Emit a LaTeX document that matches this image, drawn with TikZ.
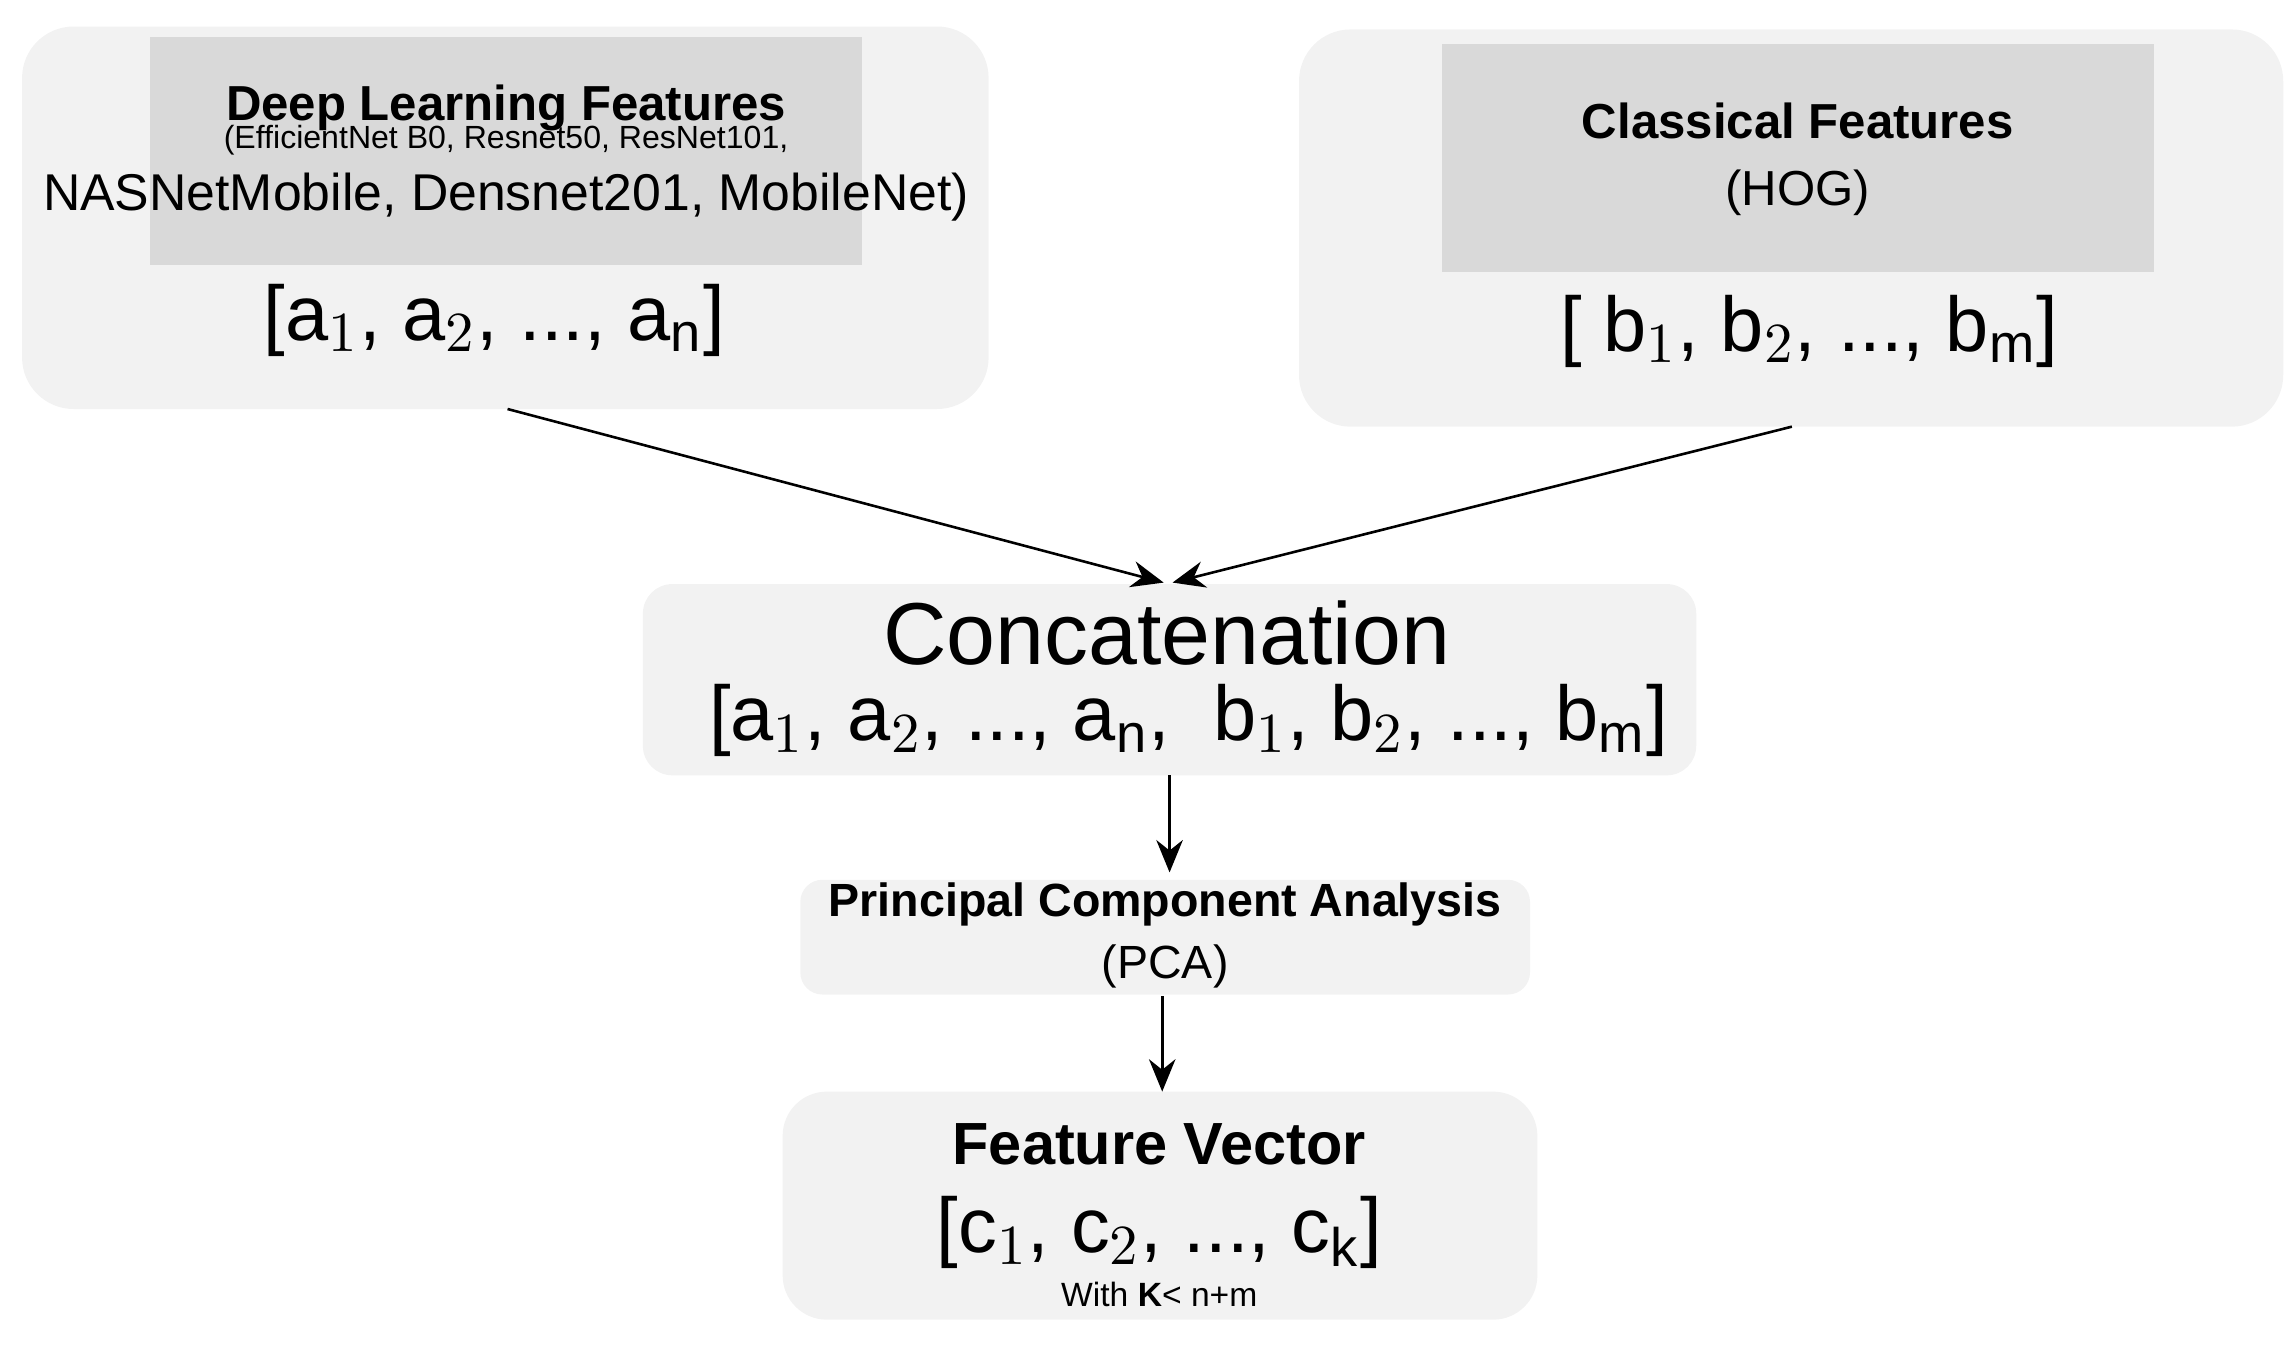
\documentclass[tikz,border=0pt]{standalone}
\usepackage{fontspec}
\setmainfont{Liberation Sans}
\usetikzlibrary{arrows.meta,calc}
\definecolor{outerbg}{HTML}{F2F2F2}
\definecolor{innerbg}{HTML}{D9D9D9}
\tikzset{
  outer/.style={fill=outerbg, draw=none, rounded corners=0.35cm},
  inner/.style={fill=innerbg, draw=none},
  arrow/.style={-{Stealth[length=2.2mm,width=1.8mm]}, line width=0.5pt, draw=black}
}
\begin{document}
\begin{tikzpicture}[x=0.01cm,y=-0.01cm]
\useasboundingbox (0,0) rectangle (1560,920);
% boxes
\fill[outer] (15,18) rectangle (672,278);
\fill[inner] (102,25) rectangle (586,180);
\fill[outer] (883,20) rectangle (1552,290);
\fill[inner] (980,30) rectangle (1464,185);
\fill[outer,rounded corners=0.2cm] (437,397) rectangle (1153,527);
\fill[outer,rounded corners=0.15cm] (544,598) rectangle (1040,676);
\fill[outer,rounded corners=0.3cm] (532,742) rectangle (1045,897);

% texts
\node (dl) at (344,73) {\fontsize{9.5}{11}\selectfont\bfseries Deep Learning Features};
\node[align=center] (dllist) at (344,118) {\fontsize{6.2}{8.5}\selectfont (EfficientNet B0, Resnet50, ResNet101,\\ NASNetMobile, Densnet201, MobileNet)};
\node (va) at (336,218) {\fontsize{15}{18}\selectfont [a$_1$, a$_2$, ..., a$_\mathrm{n}$]};
\node[align=center] (cf) at (1222,108) {\fontsize{9.5}{12}\selectfont\bfseries Classical Features\\[1pt] \fontsize{9.5}{12}\selectfont\mdseries (HOG)};
\node (vb) at (1230,225) {\fontsize{15}{18}\selectfont [ b$_1$, b$_2$, ..., b$_\mathrm{m}$]};
\node (cc) at (793,430) {\fontsize{17}{20}\selectfont Concatenation};
\node (vc) at (808,490) {\fontsize{15}{18}\selectfont [a$_1$, a$_2$, ..., a$_\mathrm{n}$,\ \ b$_1$, b$_2$, ..., b$_\mathrm{m}$]};
\node[align=center] (pca) at (792,636) {\fontsize{9}{11}\selectfont\bfseries Principal Component Analysis\\ \fontsize{9}{11}\selectfont\mdseries (PCA)};
\node (fv) at (788,778) {\fontsize{11.5}{14}\selectfont\bfseries Feature Vector};
\node (vf) at (788,838) {\fontsize{15}{18}\selectfont [c$_1$, c$_2$, ..., c$_\mathrm{k}$]};
\node (wk) at (788,880) {\fontsize{6.5}{8}\selectfont With \textbf{K}< n+m};

% connector anchors
\coordinate (l0) at (345,278);
\coordinate (r0) at (1218,290);
\coordinate (cin) at (795,396);
\coordinate (c0) at (795,527);
\coordinate (p1) at (795,593);
\coordinate (p0) at (790,677);
\coordinate (f1) at (790,742);
\draw[arrow] (l0) -- ($(cin)+(-4,0)$);
\draw[arrow] (r0) -- ($(cin)+(2,0)$);
\draw[arrow] (c0) -- (p1);
\draw[arrow] (p0) -- (f1);
\end{tikzpicture}
\end{document}
